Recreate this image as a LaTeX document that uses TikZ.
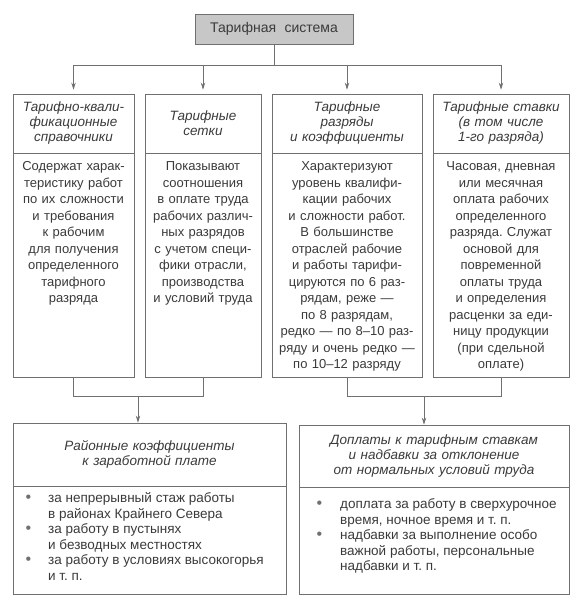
\documentclass[tikz,border=0pt]{standalone}
\usepackage{fontspec}
\setmainfont{Liberation Sans}
\usetikzlibrary{arrows.meta}
\definecolor{ink}{HTML}{3A3A3A}
\definecolor{rule}{HTML}{707070}
\newcommand{\dotitem}{\textcolor{rule}{\fontsize{16}{15.5}\selectfont\textbullet}}
\frenchspacing
\begin{document}
\begin{tikzpicture}[x=1pt,y=-1pt,
  every node/.style={text=ink},
  topbox/.style={draw=rule,line width=0.8pt,fill=black!22,minimum width=158pt,minimum height=30pt,inner sep=0pt,font=\fontsize{14}{16}\selectfont},
  hdr/.style={draw=rule,line width=0.8pt,inner sep=2pt,align=center,font=\fontsize{13.5}{15}\selectfont\itshape},
  body/.style={draw=rule,line width=0.8pt,inner sep=0pt},
  txt/.style={inner sep=0pt,align=center,anchor=north,font=\fontsize{13}{16.5}\selectfont},
  items/.style={inner sep=0pt,anchor=north west,font=\fontsize{13.5}{15.5}\selectfont},
  line/.style={draw=rule,line width=0.8pt},
  arr/.style={draw=rule,line width=0.8pt,-{Stealth[length=7pt,width=4.5pt]}}]
\useasboundingbox (0,0) rectangle (584,607);
% top
\node (top) at (274,29) [topbox] {Тарифная\hspace{0.6em}система};
\coordinate (bus) at (274,65);
% column headers
\node (h1) at (73.5,123.5) [hdr,minimum width=121pt,minimum height=59pt,text width=117pt] {Тарифно-квали-\\фикационные\\справочники};
\node (h2) at (203,123.5) [hdr,minimum width=116pt,minimum height=59pt,text width=112pt] {Тарифные\\сетки};
\node (h3) at (347,123.5) [hdr,minimum width=150pt,minimum height=59pt,text width=146pt] {Тарифные\\разряды\\и коэффициенты};
\node (h4) at (501,123.5) [hdr,minimum width=136pt,minimum height=59pt,text width=132pt] {Тарифные ставки\\(в том числе\\1-го разряда)};
% column bodies
\node (b1) at (73.5,265) [body,minimum width=121pt,minimum height=224pt] {};
\node (b2) at (203,265) [body,minimum width=116pt,minimum height=224pt] {};
\node (b3) at (347,265) [body,minimum width=150pt,minimum height=224pt] {};
\node (b4) at (501,265) [body,minimum width=136pt,minimum height=224pt] {};
\node (t1) at (73.5,161.5) [txt,text width=121pt] {Содержат харак-\\теристику работ\\по их сложности\\и требования\\к рабочим\\для получения\\определенного\\тарифного\\разряда};
\node (t2) at (203,161.5) [txt,text width=116pt] {Показывают\\соотношения\\в оплате труда\\рабочих различ-\\ных разрядов\\с учетом специ-\\фики отрасли,\\производства\\и условий труда};
\node (t3) at (347,161.5) [txt,text width=150pt] {Характеризуют\\уровень квалифи-\\кации рабочих\\и сложности работ.\\В большинстве\\отраслей рабочие\\и работы тарифи-\\цируются по 6 раз-\\рядам, реже —\\по 8 разрядам,\\редко — по 8–10 раз-\\ряду и очень редко —\\по 10–12 разряду};
\node (t4) at (501,161.5) [txt,text width=136pt] {Часовая, дневная\\или месячная\\оплата рабочих\\определенного\\разряда. Служат\\основой для\\повременной\\оплаты труда\\и определения\\расценки за еди-\\ницу продукции\\(при сдельной\\оплате)};
% bottom boxes
\node (lh) at (149.5,454.5) [hdr,minimum width=273pt,minimum height=63pt,text width=269pt] {Районные коэффициенты\\к заработной плате};
\node (lb) at (149.5,540) [body,minimum width=273pt,minimum height=108pt] {};
\node (rh) at (434,456) [hdr,minimum width=270pt,minimum height=62pt,text width=266pt] {Доплаты к тарифным ставкам\\и надбавки за отклонение\\от нормальных условий труда};
\node (rb) at (434,540.5) [body,minimum width=270pt,minimum height=107pt] {};
\node (li) at (25.5,491.5) [items] {\begin{tabular}{@{}p{22.5pt}@{}l@{}}
\dotitem & за непрерывный стаж работы\\
 & в районах Крайнего Севера\\
\dotitem & за работу в пустынях\\
 & и безводных местностях\\
\dotitem & за работу в условиях высокогорья\\
 & и т. п.
\end{tabular}};
\node (ri) at (316.5,497.5) [items] {\begin{tabular}{@{}p{23.5pt}@{}l@{}}
\dotitem & доплата за работу в сверхурочное\\
 & время, ночное время и т. п.\\
\dotitem & надбавки за выполнение особо\\
 & важной работы, персональные\\
 & надбавки и т. п.
\end{tabular}};
% connectors
\draw[line] (top.south) -- (bus);
\foreach \c in {h1,h2,h3,h4}
  \draw[arr,shorten >=4pt] (bus) -| (\c.north);
\coordinate (jl) at (138,396);
\coordinate (jr) at (424,396);
\draw[line] (b1.south) |- (jl);
\draw[line] (b2.south) |- (jl);
\draw[arr] (jl) -- (jl |- lh.north);
\draw[line] (b3.south) |- (jr);
\draw[line] (b4.south) |- (jr);
\draw[arr] (jr) -- (jr |- rh.north);
\end{tikzpicture}
\end{document}
